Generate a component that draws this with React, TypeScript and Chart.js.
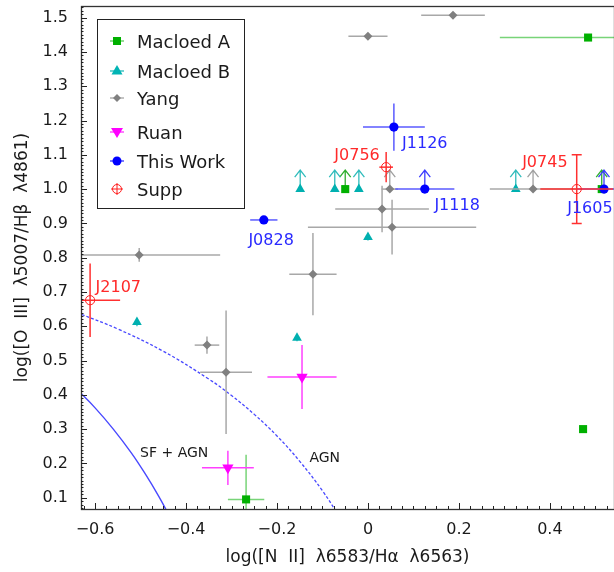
import React, { useEffect, useRef } from "react";
import { Chart, registerables } from "chart.js";
Chart.register(...registerables);

const FONT = "'DejaVu Sans', sans-serif";

// axis ticks
const xTicks = [-0.6, -0.4, -0.2, 0, 0.2, 0.4];
const xTickLabels = ["\u22120.6", "\u22120.4", "\u22120.2", "0", "0.2", "0.4"];
const yTicks = [0.1, 0.2, 0.3, 0.4, 0.5, 0.6, 0.7, 0.8, 0.9, 1.0, 1.1, 1.2, 1.3, 1.4, 1.5];
const yTickLabels = ["0.1", "0.2", "0.3", "0.4", "0.5", "0.6", "0.7", "0.8", "0.9", "1.0", "1.1", "1.2", "1.3", "1.4", "1.5"];

// Macloed A
const macAX = [0.484, -0.05, 0.473, -0.268, 0.514];
const macAY = [1.442, 1.0, 0.3, 0.095, 1.0];
const macAXerr = [0.194, 0, 0.008, 0.04, 0];
const macAYerr = [0, 0, 0.008, 0.13, 0];
const macALim = [false, true, false, false, true];

// Macloed B
const macBX = [-0.508, -0.149, -0.073, -0.02, 0.0, 0.325, -0.156];
const macBY = [0.612, 1.0, 1.0, 1.0, 0.86, 1.0, 0.566];
const macBXerr = [0.004, 0, 0, 0, 0.004, 0, 0.004];
const macBYerr = [0.012, 0, 0, 0, 0.01, 0, 0.01];
const macBLim = [false, true, true, true, false, true, false];

// Yang
const yangX = [0.187, 0.0, 0.048, 0.031, 0.053, 0.363, -0.503, -0.121, -0.354, -0.312];
const yangY = [1.507, 1.446, 1.0, 0.942, 0.889, 1.0, 0.808, 0.752, 0.545, 0.466];
const yangXerr = [0.07, 0.043, 0.018, 0.103, 0.185, 0.095, 0.178, 0.052, 0.027, 0.057];
const yangYerr = [0.004, 0.004, 0, 0.068, 0.08, 0, 0.02, 0.12, 0.025, 0.18];
const yangLim = [false, false, true, false, false, true, false, false, false, false];

// Ruan
const ruanX = [-0.145, -0.308];
const ruanY = [0.452, 0.187];
const ruanXerr = [0.076, 0.057];
const ruanYerr = [0.093, 0.05];

// This Work
const workNames = ["J1126", "J1118", "J0828", "J1605"];
const workX = [0.057, 0.125, -0.229, 0.519];
const workY = [1.181, 1.0, 0.91, 1.0];
const workXerr = [0.068, 0.065, 0.03, 0.06];
const workYerr = [0.069, 0, 0, 0];
const workLim = [false, true, false, true];
const workLabelX = [0.075, 0.196, -0.213, 0.488];
const workLabelY = [1.137, 0.956, 0.854, 0.948];
const workLabelAlign = ["left", "center", "center", "center"];

// Supp
const suppNames = ["J0756", "J0745", "J2107"];
const suppX = [0.04, 0.459, -0.611];
const suppY = [1.064, 1.0, 0.676];
const suppXerr = [0.015, 0.08, 0.066];
const suppYerr = [0.044, 0.1, 0.107];
const suppCaps = [false, true, false];
const suppLabelX = [-0.024, 0.389, -0.549];
const suppLabelY = [1.102, 1.082, 0.717];

// demarcation curves
const sfX = [-0.64, -0.6, -0.56, -0.52, -0.49, -0.46, -0.44];
const sfY = [0.416, 0.362, 0.3, 0.23, 0.17, 0.104, 0.055];
const agnX = [-0.64, -0.55, -0.45, -0.35, -0.3, -0.25, -0.2, -0.15, -0.1, -0.06];
const agnY = [0.64, 0.592, 0.527, 0.446, 0.398, 0.343, 0.28, 0.206, 0.12, 0.039];

const regionLabels = ["SF + AGN", "AGN"];
const regionLabelX = [-0.426, -0.095];
const regionLabelY = [0.233, 0.219];

const legendNames = ["Macloed A", "Macloed B", "Yang", "Ruan", "This Work", "Supp"];

const pts = (xs: number[], ys: number[]) => xs.map((x, i) => ({ x, y: ys[i] }));
const falses = (n: number) => new Array(n).fill(false);

const errPlugin = {
  id: "errbars",
  beforeDatasetDraw(chart: any, args: any) {
    const ds = chart.data.datasets[args.index];
    if (!ds.errX) return;
    const { ctx, chartArea: ca } = chart;
    const sx = chart.scales.x, sy = chart.scales.y;
    ctx.save();
    ctx.beginPath();
    ctx.rect(ca.left, ca.top, ca.right - ca.left, ca.bottom - ca.top);
    ctx.clip();
    ctx.lineWidth = 1.5;
    ds.data.forEach((p: any, i: number) => {
      const px = sx.getPixelForValue(p.x);
      const py = sy.getPixelForValue(p.y);
      const ex = ds.errX[i], ey = ds.errY[i];
      ctx.strokeStyle = ds.errColor;
      if (ex > 0) {
        ctx.beginPath();
        ctx.moveTo(sx.getPixelForValue(p.x - ex), py);
        ctx.lineTo(sx.getPixelForValue(p.x + ex), py);
        ctx.stroke();
      }
      if (ey > 0) {
        const y1 = sy.getPixelForValue(p.y + ey), y2 = sy.getPixelForValue(p.y - ey);
        ctx.beginPath();
        ctx.moveTo(px, y1);
        ctx.lineTo(px, y2);
        if (ds.caps && ds.caps[i]) {
          ctx.moveTo(px - 5, y1); ctx.lineTo(px + 5, y1);
          ctx.moveTo(px - 5, y2); ctx.lineTo(px + 5, y2);
        }
        ctx.stroke();
      }
      if (ds.lim && ds.lim[i]) {
        ctx.strokeStyle = ds.arrowColor;
        ctx.lineWidth = 1.3;
        const tip = py - 19;
        ctx.beginPath();
        ctx.moveTo(px, py);
        ctx.lineTo(px, tip);
        ctx.moveTo(px - 5.5, tip + 7);
        ctx.lineTo(px, tip);
        ctx.lineTo(px + 5.5, tip + 7);
        ctx.stroke();
        ctx.lineWidth = 1.5;
      }
    });
    ctx.restore();
  },
};

function drawMarker(ctx: CanvasRenderingContext2D, kind: string, x: number, y: number, color: string) {
  ctx.save();
  ctx.fillStyle = color;
  ctx.strokeStyle = color;
  ctx.beginPath();
  if (kind === "square") {
    ctx.rect(x - 4, y - 4, 8, 8);
    ctx.fill();
  } else if (kind === "tri") {
    ctx.moveTo(x, y - 6); ctx.lineTo(x + 5.5, y + 3.5); ctx.lineTo(x - 5.5, y + 3.5); ctx.closePath();
    ctx.fill();
  } else if (kind === "diamond") {
    ctx.moveTo(x, y - 4); ctx.lineTo(x + 4, y); ctx.lineTo(x, y + 4); ctx.lineTo(x - 4, y); ctx.closePath();
    ctx.fill();
  } else if (kind === "dtri") {
    ctx.moveTo(x, y + 6); ctx.lineTo(x + 6, y - 4); ctx.lineTo(x - 6, y - 4); ctx.closePath();
    ctx.fill();
  } else if (kind === "circle") {
    ctx.arc(x, y, 4.5, 0, Math.PI * 2);
    ctx.fill();
  } else if (kind === "ocircle") {
    ctx.lineWidth = 1;
    ctx.arc(x, y, 4.5, 0, Math.PI * 2);
    ctx.moveTo(x - 6, y); ctx.lineTo(x + 6, y);
    ctx.moveTo(x, y - 6); ctx.lineTo(x, y + 6);
    ctx.stroke();
  }
  ctx.restore();
}

const overlayPlugin = {
  id: "overlay",
  afterDatasetsDraw(chart: any) {
    const { ctx, chartArea: ca } = chart;
    const sx = chart.scales.x, sy = chart.scales.y;
    ctx.save();
    // frame
    ctx.strokeStyle = "#333";
    ctx.lineWidth = 1.3;
    ctx.strokeRect(ca.left + 0.5, ca.top + 0.5, ca.right - ca.left, ca.bottom - ca.top);
    ctx.lineWidth = 1;
    ctx.strokeStyle = "#222";
    ctx.beginPath();
    for (let k = -26; k <= 22; k++) {
      const v = k * 0.025;
      const px = Math.round(sx.getPixelForValue(v)) + 0.5;
      if (px < ca.left || px > ca.right) continue;
      const major = k % 8 === 0;
      ctx.moveTo(px, ca.bottom);
      ctx.lineTo(px, ca.bottom - (major ? 6 : 3));
    }
    for (let k = 6; k <= 154; k++) {
      const v = k * 0.01;
      const py = Math.round(sy.getPixelForValue(v)) + 0.5;
      if (py < ca.top || py > ca.bottom) continue;
      const major = k % 10 === 0;
      ctx.moveTo(ca.left, py);
      ctx.lineTo(ca.left + (major ? 6 : 2.5), py);
    }
    ctx.stroke();

    // labels
    ctx.font = `16px ${FONT}`;
    ctx.textBaseline = "alphabetic";
    ctx.fillStyle = "#2a2aff";
    workNames.forEach((n, i) => {
      ctx.textAlign = workLabelAlign[i] as CanvasTextAlign;
      ctx.fillText(n, sx.getPixelForValue(workLabelX[i]), sy.getPixelForValue(workLabelY[i]) + 6);
    });
    ctx.fillStyle = "#ff2a2a";
    ctx.textAlign = "center";
    suppNames.forEach((n, i) => {
      ctx.fillText(n, sx.getPixelForValue(suppLabelX[i]), sy.getPixelForValue(suppLabelY[i]) + 6);
    });
    ctx.fillStyle = "#1a1a1a";
    ctx.font = `14px ${FONT}`;
    regionLabels.forEach((n, i) => {
      ctx.fillText(n, sx.getPixelForValue(regionLabelX[i]), sy.getPixelForValue(regionLabelY[i]) + 5);
    });

    // legend
    const lx = 97, ly = 19, lw = 147, lh = 189;
    ctx.fillStyle = "#fff";
    ctx.fillRect(lx, ly, lw, lh);
    ctx.strokeStyle = "#222";
    ctx.lineWidth = 1;
    ctx.strokeRect(lx + 0.5, ly + 0.5, lw, lh);
    const rows = [41, 71, 98, 132, 161, 189];
    const kinds = ["square", "tri", "diamond", "dtri", "circle", "ocircle"];
    const colors = ["#00b000", "#00b4b4", "#808080", "#ff00ff", "#0000ff", "#ff2020"];
    const lineCols = ["#70d070", "#40c4c4", "#b0b0b0", "#ff50ff", "#5050ff", "#ff3030"];
    ctx.font = `18px ${FONT}`;
    ctx.textAlign = "left";
    legendNames.forEach((n, i) => {
      const y = rows[i];
      if (i < 5) {
        ctx.strokeStyle = lineCols[i];
        ctx.lineWidth = 1.5;
        ctx.beginPath();
        ctx.moveTo(110, y); ctx.lineTo(124, y);
        ctx.stroke();
      }
      drawMarker(ctx, kinds[i], 117, y, colors[i]);
      ctx.fillStyle = "#1a1a1a";
      ctx.fillText(n, 137, y + 6.5);
    });
    ctx.restore();
  },
};

export default function App() {
  const ref = useRef<HTMLCanvasElement>(null);
  useEffect(() => {
    document.body.style.margin = "0";
    const canvas = ref.current!;
    const chart = new Chart(canvas, {
      type: "scatter",
      data: {
        datasets: [
          {
            label: "SF+AGN line",
            data: pts(sfX, sfY) as any,
            showLine: true,
            borderColor: "#4848ff",
            borderWidth: 1.4,
            pointRadius: 0,
            tension: 0.4,
            order: 100,
          } as any,
          {
            label: "AGN line",
            data: pts(agnX, agnY) as any,
            showLine: true,
            borderColor: "#4848ff",
            borderWidth: 1.3,
            borderDash: [3, 2],
            pointRadius: 0,
            tension: 0.4,
            order: 99,
          },
          {
            label: legendNames[0],
            data: pts(macAX, macAY),
            pointStyle: "rect",
            pointRadius: 5.7,
            backgroundColor: "#00b000",
            borderColor: "#00b000",
            borderWidth: 0,
            errX: macAXerr, errY: macAYerr, lim: macALim,
            errColor: "#78d478", arrowColor: "#2fae2f",
            order: 6,
          },
          {
            label: legendNames[1],
            data: pts(macBX, macBY),
            pointStyle: "triangle",
            pointRadius: 5.6,
            backgroundColor: "#00b0b0",
            borderColor: "#00b0b0",
            borderWidth: 0,
            errX: macBXerr, errY: macBYerr, lim: macBLim,
            errColor: "#40c4c4", arrowColor: "#30bcbc",
            order: 5,
          },
          {
            label: legendNames[2],
            data: pts(yangX, yangY),
            pointStyle: "rectRot",
            pointRadius: 4.5,
            backgroundColor: "#808080",
            borderColor: "#808080",
            borderWidth: 0,
            errX: yangXerr, errY: yangYerr, lim: yangLim,
            errColor: "#a8a8a8", arrowColor: "#a0a0a0",
            order: 4,
          },
          {
            label: legendNames[3],
            data: pts(ruanX, ruanY),
            pointStyle: "triangle",
            rotation: 180,
            pointRadius: 6.5,
            backgroundColor: "#ff00ff",
            borderColor: "#ff00ff",
            borderWidth: 0,
            errX: ruanXerr, errY: ruanYerr, lim: falses(2),
            errColor: "#ff40ff", arrowColor: "#ff40ff",
            order: 3,
          },
          {
            label: legendNames[4],
            data: pts(workX, workY),
            pointStyle: "circle",
            pointRadius: 4.6,
            backgroundColor: "#0000ff",
            borderColor: "#0000ff",
            borderWidth: 0,
            errX: workXerr, errY: workYerr, lim: workLim,
            errColor: "#5a5aff", arrowColor: "#3c3cff",
            order: 2,
          },
          {
            label: legendNames[5],
            data: pts(suppX, suppY),
            pointStyle: "circle",
            pointRadius: 4.6,
            backgroundColor: "rgba(0,0,0,0)",
            borderColor: "#ff2020",
            borderWidth: 1,
            errX: suppXerr, errY: suppYerr, lim: falses(3), caps: suppCaps,
            errColor: "#ff3030", arrowColor: "#ff3030",
            order: 1,
          },
        ] as any,
      },
      options: {
        animation: false,
        responsive: false,
        devicePixelRatio: 1,
        layout: { autoPadding: false, padding: { top: 6, right: 0, left: 0, bottom: 0 } },
        plugins: { legend: { display: false }, tooltip: { enabled: false } },
        scales: {
          x: {
            type: "linear",
            min: -0.631,
            max: 0.541,
            grid: { display: false, drawTicks: false },
            border: { display: false },
            afterBuildTicks: (s: any) => {
              s.ticks = xTicks.map((v) => ({ value: v }));
            },
            afterFit: (s: any) => {
              s.height = 63;
              s.paddingLeft = 0;
              s.paddingRight = 0;
            },
            ticks: {
              autoSkip: false,
              maxRotation: 0,
              padding: 11,
              color: "#1a1a1a",
              font: { family: FONT, size: 16 },
              callback: (_v: any, i: number) => xTickLabels[i],
            },
            title: {
              display: true,
              text: "log([N  II]  \u03bb6583/H\u03b1  \u03bb6563)",
              color: "#1a1a1a",
              font: { family: FONT, size: 17 },
              padding: { top: 0, bottom: 4 },
            },
          },
          y: {
            type: "linear",
            min: 0.067,
            max: 1.534,
            grid: { display: false, drawTicks: false },
            border: { display: false },
            afterBuildTicks: (s: any) => {
              s.ticks = yTicks.map((v) => ({ value: v }));
            },
            afterFit: (s: any) => {
              s.width = 81;
              s.paddingTop = 0;
              s.paddingBottom = 0;
            },
            ticks: {
              autoSkip: false,
              padding: 13,
              color: "#1a1a1a",
              font: { family: FONT, size: 16 },
              callback: (_v: any, i: number) => yTickLabels[i],
            },
            title: {
              display: true,
              text: "log([O  III]  \u03bb5007/H\u03b2  \u03bb4861)",
              color: "#1a1a1a",
              font: { family: FONT, size: 17 },
              padding: { top: 12, bottom: 0 },
            },
          },
        },
      } as any,
      plugins: [errPlugin as any, overlayPlugin as any],
    });
    return () => chart.destroy();
  }, []);
  return (
    <div style={{ width: 614, height: 572 }}>
      <canvas ref={ref} width={614} height={572} style={{ display: "block", width: 614, height: 572 }} />
    </div>
  );
}
